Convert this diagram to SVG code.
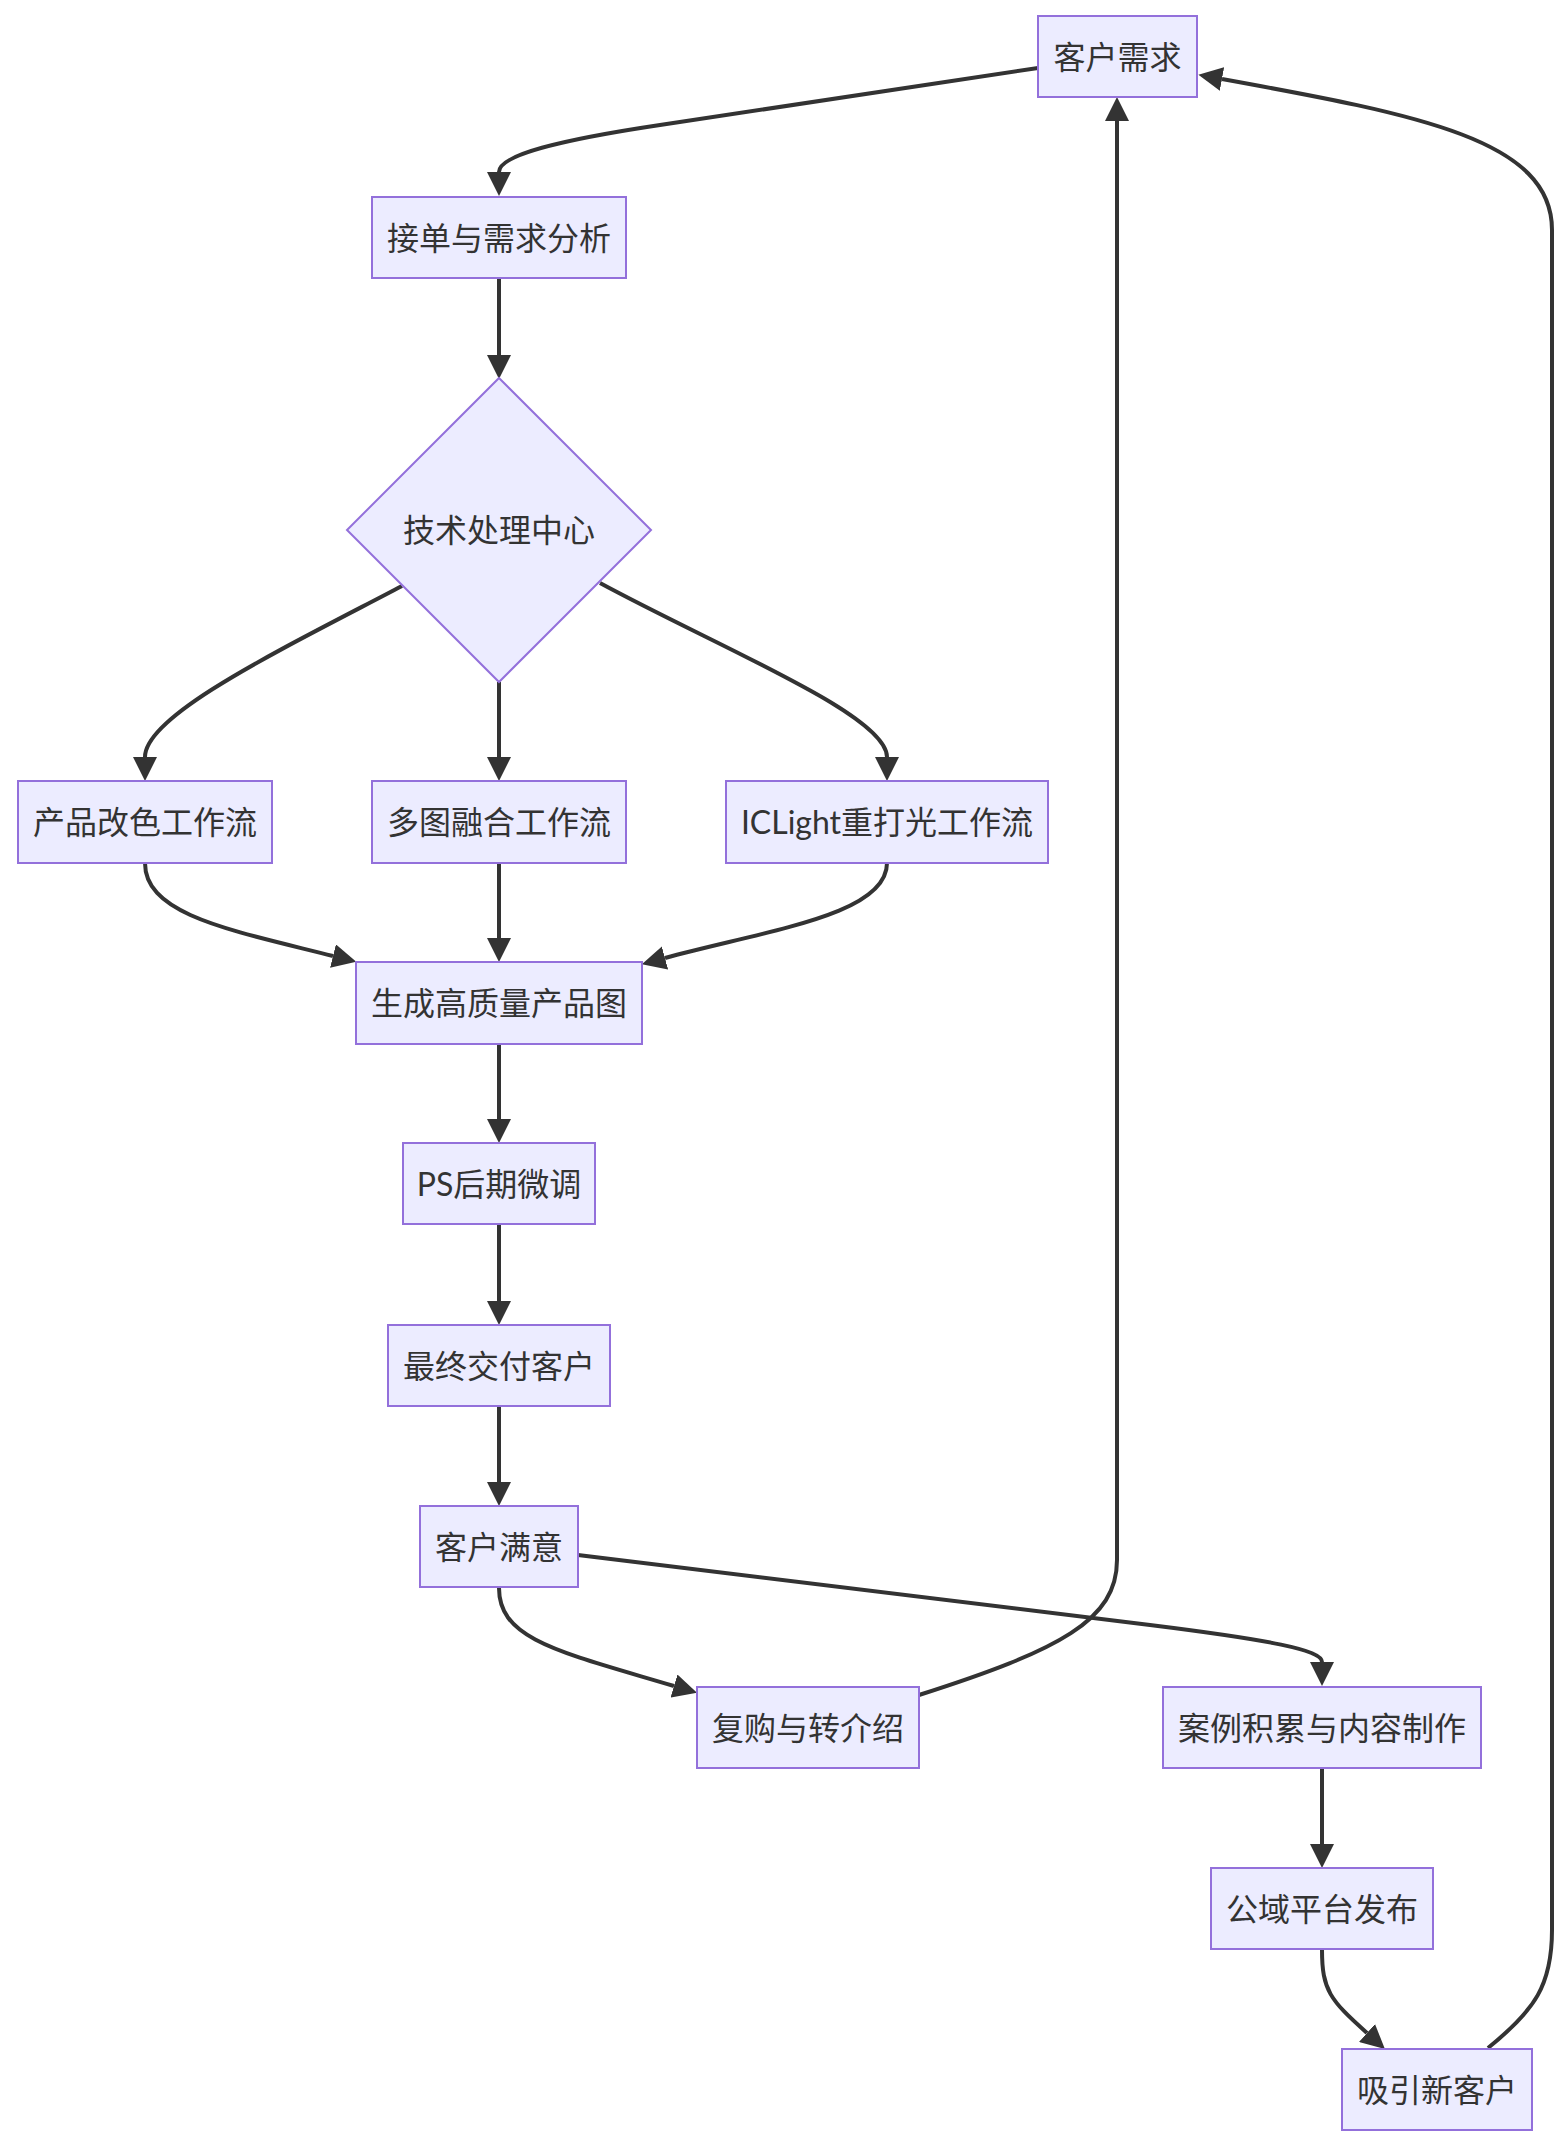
<svg xmlns="http://www.w3.org/2000/svg" width="1568" height="2148" viewBox="0 0 1568 2148">
<style>
.node rect,.node polygon{fill:#ECECFF;stroke:#9370DB;stroke-width:2}
.node text{font-family:Lato,"Noto Sans CJK SC",sans-serif;font-size:32px;fill:#333333;text-anchor:middle}
.edge{fill:none;stroke:#333333;stroke-width:4;marker-end:url(#arrow)}
</style>
<defs>
<marker id="arrow" viewBox="0 0 10 10" refX="0" refY="5" markerWidth="24" markerHeight="24" markerUnits="userSpaceOnUse" orient="auto">
<path d="M0,0 L10,5 L0,10 z" fill="#333333"/>
</marker>
</defs>
<rect width="1568" height="2148" fill="#ffffff"/>
<g id="connectors">
<path class="edge" d="M1038,68 L660,125 C560,140 499,155 499,172"/>
<path class="edge" d="M499,279 L499,355"/>
<path class="edge" d="M402,586 C280,650 145,715 145,757"/>
<path class="edge" d="M499,682 L499,757"/>
<path class="edge" d="M600,583 C720,648 887,715 887,757"/>
<path class="edge" d="M145,863 C145,915 230,930 333,956"/>
<path class="edge" d="M499,863 L499,938"/>
<path class="edge" d="M887,863 C887,915 768,930 665,958"/>
<path class="edge" d="M499,1044 L499,1119"/>
<path class="edge" d="M499,1224 L499,1301"/>
<path class="edge" d="M499,1406 L499,1482"/>
<path class="edge" d="M499,1588 C499,1640 560,1652 674,1686"/>
<path class="edge" d="M578,1555 L1150,1625 C1270,1640 1322,1650 1322,1662"/>
<path class="edge" d="M919,1695 C1060,1650 1117,1620 1117,1560 L1117,121"/>
<path class="edge" d="M1322,1768 L1322,1844"/>
<path class="edge" d="M1322,1950 C1322,1990 1330,2000 1367,2033"/>
<path class="edge" d="M1488,2048 C1535,2010 1552,1985 1552,1930 L1552,230 C1552,140 1420,115 1222,79"/>
</g>
<g id="n1" class="node"><rect x="1038" y="16" width="159" height="81"/><text x="1117.5" y="68.5">客户需求</text></g>
<g id="n2" class="node"><rect x="372" y="197" width="254" height="81"/><text x="499" y="249.5">接单与需求分析</text></g>
<g id="n3" class="node"><polygon points="499,378 651,530 499,682 347,530"/><text x="499" y="542">技术处理中心</text></g>
<g id="n4" class="node"><rect x="18" y="781" width="254" height="82"/><text x="145" y="834">产品改色工作流</text></g>
<g id="n5" class="node"><rect x="372" y="781" width="254" height="82"/><text x="499" y="834">多图融合工作流</text></g>
<g id="n6" class="node"><rect x="726" y="781" width="322" height="82"/><text x="887" y="834">ICLight重打光工作流</text></g>
<g id="n7" class="node"><rect x="356" y="962" width="286" height="82"/><text x="499" y="1015">生成高质量产品图</text></g>
<g id="n8" class="node"><rect x="403" y="1143" width="192" height="81"/><text x="499" y="1195.5">PS后期微调</text></g>
<g id="n9" class="node"><rect x="388" y="1325" width="222" height="81"/><text x="499" y="1377.5">最终交付客户</text></g>
<g id="n10" class="node"><rect x="420" y="1506" width="158" height="81"/><text x="499" y="1558.5">客户满意</text></g>
<g id="n11" class="node"><rect x="697" y="1687" width="222" height="81"/><text x="808" y="1739.5">复购与转介绍</text></g>
<g id="n12" class="node"><rect x="1163" y="1687" width="318" height="81"/><text x="1322" y="1739.5">案例积累与内容制作</text></g>
<g id="n13" class="node"><rect x="1211" y="1868" width="222" height="81"/><text x="1322" y="1920.5">公域平台发布</text></g>
<g id="n14" class="node"><rect x="1342" y="2049" width="190" height="81"/><text x="1437" y="2101.5">吸引新客户</text></g>
</svg>
